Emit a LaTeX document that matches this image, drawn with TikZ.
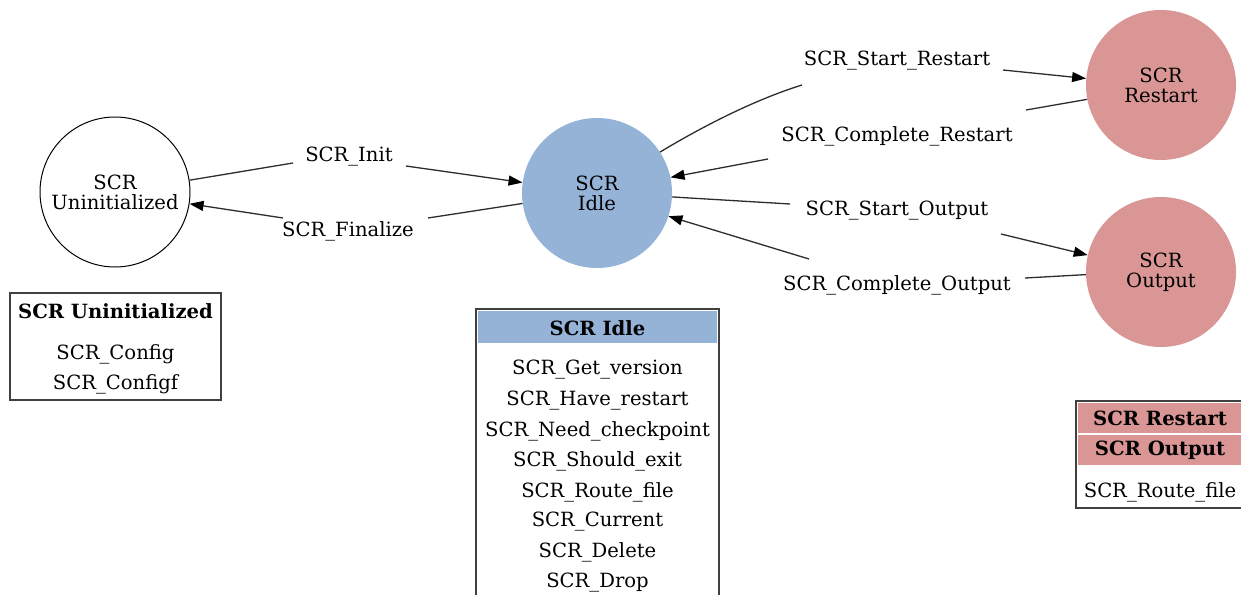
\documentclass[tikz,border=0pt]{standalone}
\usepackage{fontspec}
\setmainfont{DejaVu Serif}
\usetikzlibrary{arrows.meta}
\definecolor{idleblue}{RGB}{149,179,215}
\definecolor{restpink}{RGB}{217,150,148}
\definecolor{edgegray}{RGB}{45,45,45}
\tikzset{
  base font/.style={font=\fontsize{19.6}{20.5}\selectfont, inner sep=0pt, align=center},
  txt/.style={base font, yshift=-2pt},
  hdr/.style={font=\fontsize{19.6}{20.5}\selectfont\bfseries, inner sep=0pt, yshift=-1pt},
  state/.style={circle, minimum size=150pt, inner sep=0pt, base font, font=\fontsize{19.6}{20}\selectfont},
  edge/.style={draw=edgegray, line width=1.3pt},
  arr/.style={edge, -{Triangle[length=14pt,width=10pt,fill=black,color=black]}},
  tbl/.style={draw=black!75, line width=1.2pt},
}
\begin{document}
\begin{tikzpicture}[x=1pt,y=-1pt]
\clip (0,0) rectangle (1241,594);
\fill[white] (0,0) rectangle (1241,594);
% states
\node[state, draw=black, line width=1pt, fill=white] (unin) at (115,192) {SCR\\Uninitialized};
\node[state, fill=idleblue] (idle) at (597,193) {SCR\\Idle};
\node[state, fill=restpink] (restart) at (1161,85) {SCR\\Restart};
\node[state, fill=restpink] (output) at (1161,272) {SCR\\Output};
% edge labels
\node[txt] (linit) at (349,155) {SCR\_Init};
\node[txt] (lfin) at (348,229) {SCR\_Finalize};
\node[txt] (lsr) at (897,59) {SCR\_Start\_Restart};
\node[txt] (lcr) at (897,134) {SCR\_Complete\_Restart};
\node[txt] (lso) at (897,209) {SCR\_Start\_Output};
\node[txt] (lco) at (897,283) {SCR\_Complete\_Output};
% label-side ends
\coordinate (init1) at (293,163);
\coordinate (init2) at (406,166);
\coordinate (fin1) at (428,218);
\coordinate (fin2) at (283,218);
\coordinate (sr1) at (802,85);
\coordinate (sr2) at (1003,70);
\coordinate (cr1) at (1026,110);
\coordinate (cr2) at (768,159);
\coordinate (so1) at (790,204);
\coordinate (so2) at (1001,234);
\coordinate (co1) at (1025,278);
\coordinate (co2) at (809,259);
% edges
\draw[edge] (unin.9) -- (init1);
\draw[arr] (init2) -- (idle.172);
\draw[edge] (idle.188) -- (fin1);
\draw[arr] (fin2) -- (unin.-9);
\draw[edge] (idle.33) .. controls (710,122) and (760,98) .. (sr1);
\draw[arr] (sr2) -- (restart.175);
\draw[edge] (restart.191) -- (cr1);
\draw[arr] (cr2) -- (idle.12);
\draw[edge] (idle.-3) -- (so1);
\draw[arr] (so2) -- (output.167);
\draw[edge] (output.182) -- (co1);
\draw[arr] (co2) -- (idle.-18);
% table: Uninitialized
\draw[tbl] (10,293) rectangle (221,400);
\node[hdr] (tu) at (115.5,310) {SCR Uninitialized};
\node[txt] (tu1) at (115.5,352) {SCR\_Config};
\node[txt] (tu2) at (115.5,382) {SCR\_Configf};
% table: Idle
\fill[idleblue] (478,311) rectangle (717,343);
\draw[tbl] (476,309) rectangle (719,620);
\node[hdr] (ti) at (597.5,327) {SCR Idle};
\node[txt] (ti1) at (597.5,368) {SCR\_Get\_version};
\node[txt] (ti2) at (597.5,399) {SCR\_Have\_restart};
\node[txt] (ti3) at (597.5,429) {SCR\_Need\_checkpoint};
\node[txt] (ti4) at (597.5,459) {SCR\_Should\_exit};
\node[txt] (ti5) at (597.5,490) {SCR\_Route\_file};
\node[txt] (ti6) at (597.5,520) {SCR\_Current};
\node[txt] (ti7) at (597.5,550) {SCR\_Delete};
\node[txt] (ti8) at (597.5,581) {SCR\_Drop};
% table: Restart / Output
\fill[restpink] (1078,403) rectangle (1260,432.5);
\fill[restpink] (1078,434.5) rectangle (1260,465);
\draw[tbl] (1076,401) rectangle (1262,508);
\node[hdr] (tr) at (1160,417) {SCR Restart};
\node[hdr] (to) at (1160,449) {SCR Output};
\node[txt] (tr1) at (1160,490) {SCR\_Route\_file};
\end{tikzpicture}
\end{document}
